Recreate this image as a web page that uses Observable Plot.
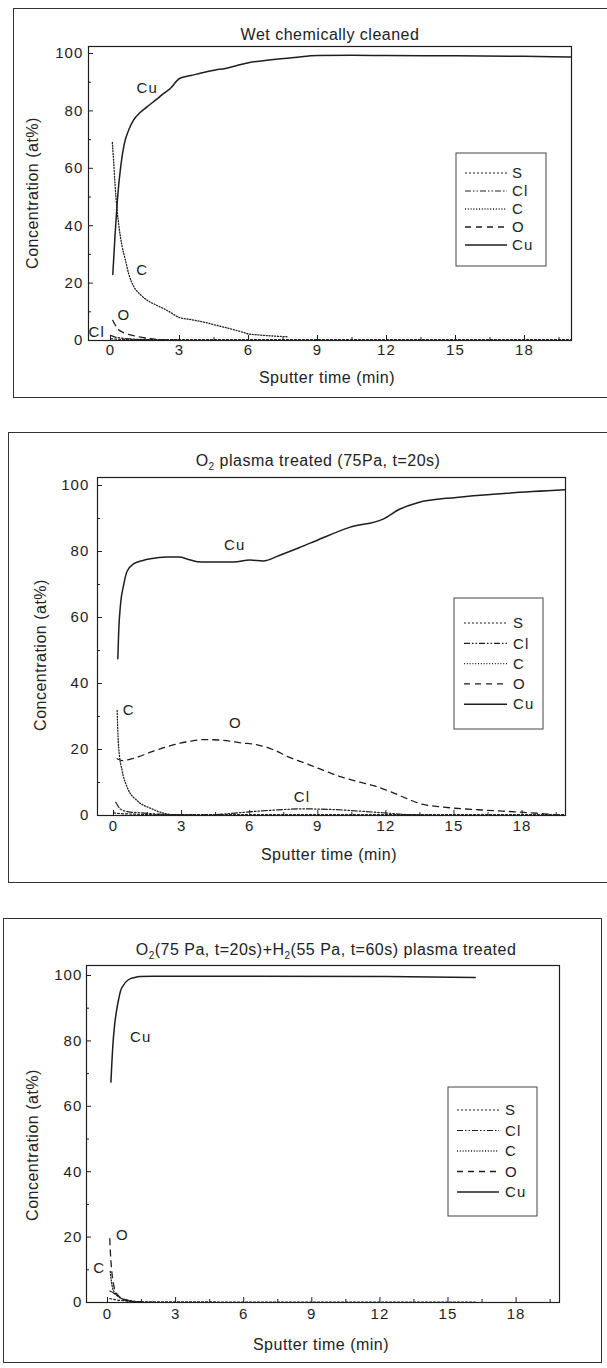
<!DOCTYPE html>
<html><head><meta charset="utf-8">
<script src="https://cdn.jsdelivr.net/npm/d3@7"></script>
<script src="https://cdn.jsdelivr.net/npm/@observablehq/plot@0.6"></script>
<style>
body{margin:0;background:#fff}
#page{position:relative;width:607px;height:1368px;overflow:hidden;background:#fff;font-family:"Liberation Sans",Arial,sans-serif;color:#222}
.lbl{position:absolute;white-space:nowrap;font-size:16px;letter-spacing:0.5px;transform:translate(-50%,-50%)}
.ylbl{transform:translate(-50%,-50%) rotate(-90deg)}
.lbl sub{font-size:10px;vertical-align:baseline;position:relative;top:4px}
.border{position:absolute;border:1.5px solid #333;box-sizing:border-box}
svg text{letter-spacing:1.1px}
</style></head><body><div id="page"></div><script>
// ---------- data ----------
const elements = ["S", "Cl", "C", "O", "Cu"];
const xTicks = [0, 3, 6, 9, 12, 15, 18];
const xMinor = [1.5, 4.5, 7.5, 10.5, 13.5, 16.5, 19.5];
const yTicks = [0, 20, 40, 60, 80, 100];
const yMinor = [10, 30, 50, 70, 90];
const titles = [
  "Wet chemically cleaned",
  "O<sub>2</sub> plasma treated (75Pa, t=20s)",
  "O<sub>2</sub>(75 Pa, t=20s)+H<sub>2</sub>(55 Pa, t=60s) plasma treated"
];
const xLabel = "Sputter time (min)";
const yLabel = "Concentration (at%)";

// panel 1: wet chemically cleaned  [time (min), concentration (at%)]
const p1S  = [[0,0.6],[0.5,0.4],[1.5,0.3],[20,0.3]];
const p1Cl = [[0,1.8],[0.2,1.2],[0.5,0.8],[1.0,0.5],[1.8,0.2],[3,0.1]];
const p1C  = [[0.08,69],[0.14,62],[0.2,54],[0.28,46],[0.38,39],[0.5,33],[0.65,28],[0.8,23],[1.0,19],[1.3,16],[1.6,14],[2.0,12.3],[2.5,10.3],[3.0,8],[3.5,7.3],[4.0,6.5],[4.6,5.3],[5.2,4.1],[5.7,3],[6.0,2.3],[6.5,1.9],[7.0,1.6],[7.7,1.3]];
const p1O  = [[0.1,7],[0.2,5.5],[0.35,3.8],[0.6,2.6],[1.0,1.7],[1.5,0.9],[2.0,0.4],[3.0,0.1]];
const p1Cu = [[0.1,23],[0.2,37],[0.3,49],[0.45,61],[0.6,68.5],[0.8,73.5],[1.0,76.8],[1.3,79.5],[1.6,81.5],[2.0,84],[2.3,86],[2.6,87.8],[3.0,91.3],[3.5,92.3],[4.0,93.3],[4.5,94.2],[5.0,94.8],[5.5,95.8],[6.0,96.8],[7.0,97.8],[8.0,98.6],[9.0,99.3],[10.5,99.4],[12,99.3],[15,99.2],[18,99],[20,98.8]];
const p1Labels = [["Cu",1.6,88],["C",1.38,24.4],["O",0.58,8.7],["Cl",-0.6,2.9]];

// panel 2: O2 plasma treated
const p2S  = [[0,0.8],[0.5,0.5],[2,0.3],[20,0.3]];
const p2Cl = [[0.1,4],[0.3,2],[0.6,1.2],[1.2,0.8],[2.0,0.4],[3,0.2],[4.5,0.3],[5.6,0.9],[7.0,1.6],[8.3,2],[9.7,1.8],[11.1,1.2],[12.1,0.7],[12.9,0.3],[14,0.1]];
const p2C  = [[0.16,31.8],[0.2,24],[0.23,20.5],[0.38,13.6],[0.6,8.6],[1.04,4.5],[1.63,2.2],[2.2,0.7],[2.6,0.2]];
const p2O  = [[0.16,17.2],[0.4,16.6],[0.82,17.2],[1.76,19.5],[2.53,21.2],[3.38,22.5],[3.98,23],[4.83,22.8],[5.6,22],[6.28,21.5],[7.05,19.9],[7.73,17.7],[8.58,15.5],[9.35,13.4],[10.03,11.7],[10.7,10.4],[11.57,8.8],[12.25,7.1],[12.93,5.1],[13.5,3.6],[14.3,2.7],[15.06,2.2],[16.4,1.6],[17.96,1.0],[19.0,0.5],[19.6,0.1]];
const p2Cu = [[0.19,47.5],[0.23,56],[0.31,64],[0.45,70],[0.6,74],[0.9,76.3],[1.3,77.3],[1.63,77.8],[2.36,78.3],[2.9,78.3],[3.3,77.6],[3.7,76.9],[4.1,76.8],[5.3,76.8],[6.0,77.4],[6.6,77.1],[7.3,78.8],[8.2,81.2],[9.0,83.5],[10.4,87.3],[11.9,89.9],[12.6,92.8],[13.4,94.8],[15.1,96.4],[17.2,97.6],[19.9,98.7]];
const p2Labels = [["Cu",5.34,81.8],["C",0.67,31.8],["O",5.37,28],["Cl",8.3,5.5]];

// panel 3: O2 + H2 plasma treated
const p3S  = [[0.1,1.2],[0.4,0.8],[0.8,0.5],[1.3,0.2],[16.2,0.1]];
const p3Cl = [[0.1,3.5],[0.25,3],[0.4,2.2],[0.6,1.3],[0.9,0.7],[1.3,0.3],[2,0.1]];
const p3C  = [[0.12,9.5],[0.16,7],[0.22,4.5],[0.3,3.2],[0.45,2],[0.7,0.9],[1.0,0.4],[1.5,0.1]];
const p3O  = [[0.1,19.5],[0.13,15],[0.17,11],[0.22,7.5],[0.3,4.5],[0.45,2.3],[0.7,1.1],[1.0,0.5],[1.5,0.1]];
const p3Cu = [[0.15,67.4],[0.19,73],[0.23,78],[0.3,84],[0.4,89.3],[0.5,93],[0.57,95.2],[0.7,97],[0.92,98.7],[1.2,99.4],[1.43,99.7],[2,99.8],[6,99.8],[12.3,99.7],[16.2,99.4]];
const p3Labels = [["Cu",1.46,81.1],["O",0.66,20.5],["C",-0.37,10.4]];

const panelSeries = [
  {S: p1S, Cl: p1Cl, C: p1C, O: p1O, Cu: p1Cu},
  {S: p2S, Cl: p2Cl, C: p2C, O: p2O, Cu: p2Cu},
  {S: p3S, Cl: p3Cl, C: p3C, O: p3O, Cu: p3Cu}
];
const panelLabels = [p1Labels, p2Labels, p3Labels];

// ---------- styles & layout ----------
const ink = "#1e1e1e";
const dash = {S: "2,2", Cl: "6,2,1.5,2,1.5,2", C: "1,1.8", O: "6,5", Cu: null};
const widths = {S: 1.2, Cl: 1.2, C: 1.3, O: 1.3, Cu: 1.5};

const layouts = [
 {top:0, svgH:400, frameL:88, frameR:571, frameT:46, frameB:340, zeroX:110, pxPerMin:23, y100:53,
  border:{l:13,t:8,r:620,b:398}, titleXY:[330,35], xlabXY:[327,378], ylabXY:[33,193], xTickDy:14, yTickDx:-5,
  legend:{l:456,t:153,w:90,h:113,first:20,step:18,s0:9,s1:51,tx:56}},
 {top:430, svgH:460, frameL:97, frameR:565, frameT:477, frameB:815, zeroX:113, pxPerMin:22.7, y100:485,
  border:{l:8,t:432,r:620,b:883}, titleXY:[318,461], xlabXY:[329,855], ylabXY:[41,655], xTickDy:15, yTickDx:-8,
  legend:{l:454,t:598,w:89,h:131,first:25,step:20.3,s0:10,s1:53,tx:59}},
 {top:900, svgH:468, frameL:86, frameR:559, frameT:965, frameB:1302, zeroX:107, pxPerMin:22.7, y100:975,
  border:{l:3,t:918,r:602,b:1363}, titleXY:[326,950], xlabXY:[321,1345], ylabXY:[33,1145], xTickDy:16, yTickDx:-4,
  legend:{l:448,t:1087,w:89,h:129,first:23,step:20.5,s0:9,s1:51,tx:57}}
];

const page = document.getElementById("page");

function addDiv(cls, html, x, y) {
  const d = document.createElement("div");
  d.className = cls;
  d.innerHTML = html;
  d.style.left = x + "px";
  d.style.top = y + "px";
  page.appendChild(d);
  return d;
}

layouts.forEach((L, i) => {
  const series = panelSeries[i];
  const plotW = L.frameR - L.frameL, plotH = L.frameB - L.frameT;
  const xDomain = [(L.frameL - L.zeroX) / L.pxPerMin, (L.frameR - L.zeroX) / L.pxPerMin];
  const pxPerUnit = (L.frameB - L.y100) / 100;
  const yDomain = [0, plotH / pxPerUnit];

  const lineMarks = elements.map(el => Plot.line(
    series[el].map(([t, c]) => ({el, t, c})),
    {x: "t", y: "c", stroke: ink, strokeWidth: widths[el], strokeDasharray: dash[el], curve: "monotone-x", clip: true}
  ));

  const svg = Plot.plot({
    width: 607, height: L.svgH,
    marginLeft: L.frameL, marginRight: 607 - L.frameR,
    marginTop: L.frameT - L.top, marginBottom: L.top + L.svgH - L.frameB,
    x: {domain: xDomain, axis: null},
    y: {domain: yDomain, axis: null},
    style: {background: "transparent", fontFamily: "'Liberation Sans', Arial, sans-serif", fontSize: "15px", color: ink, overflow: "visible"},
    marks: [
      Plot.frame({stroke: ink, strokeWidth: 1.2}),
      Plot.ruleX(xTicks, {x: d => d, insetTop: plotH - 5, stroke: ink}),
      Plot.ruleX(xMinor, {x: d => d, insetTop: plotH - 3, stroke: ink}),
      Plot.ruleY(yTicks, {y: d => d, insetRight: plotW - 5, stroke: ink}),
      Plot.ruleY(yMinor, {y: d => d, insetRight: plotW - 3, stroke: ink}),
      Plot.text(xTicks, {x: d => d, text: d => String(d), frameAnchor: "bottom", dy: L.xTickDy, fill: ink}),
      Plot.text(yTicks, {y: d => d, text: d => String(d), frameAnchor: "left", textAnchor: "end", dx: L.yTickDx, fill: ink}),
      ...lineMarks,
      Plot.text(panelLabels[i], {x: d => d[1], y: d => d[2], text: d => d[0], fill: ink, fontSize: 15})
    ]
  });
  svg.style.position = "absolute";
  svg.style.left = "0px";
  svg.style.top = L.top + "px";
  page.appendChild(svg);

  // outer panel border
  const b = document.createElement("div");
  b.className = "border";
  Object.assign(b.style, {left: L.border.l + "px", top: L.border.t + "px",
    width: (L.border.r - L.border.l) + "px", height: (L.border.b - L.border.t) + "px"});
  page.appendChild(b);

  // title and axis labels
  addDiv("lbl", titles[i], L.titleXY[0], L.titleXY[1]);
  addDiv("lbl", xLabel, L.xlabXY[0], L.xlabXY[1]);
  addDiv("lbl ylbl", yLabel, L.ylabXY[0], L.ylabXY[1]);

  // legend box
  const G = L.legend;
  const lg = d3.select(page).append("svg")
    .attr("width", G.w + 2).attr("height", G.h + 2)
    .style("position", "absolute").style("left", (G.l - 1) + "px").style("top", (G.t - 1) + "px")
    .style("font-family", "'Liberation Sans', Arial, sans-serif").style("font-size", "15px");
  lg.append("rect").attr("x", 1).attr("y", 1).attr("width", G.w).attr("height", G.h)
    .attr("fill", "#fff").attr("stroke", "#444").attr("stroke-width", 1);
  const rows = lg.selectAll("g").data(elements).join("g")
    .attr("transform", (d, k) => `translate(1,${1 + G.first + k * G.step})`);
  rows.append("line").attr("x1", G.s0).attr("x2", G.s1).attr("y1", 0).attr("y2", 0)
    .attr("stroke", ink).attr("stroke-width", d => widths[d])
    .attr("stroke-dasharray", d => dash[d]);
  rows.append("text").attr("x", G.tx).attr("y", 0).attr("dy", "0.35em")
    .attr("fill", ink).text(d => d);
});
</script></body></html>
